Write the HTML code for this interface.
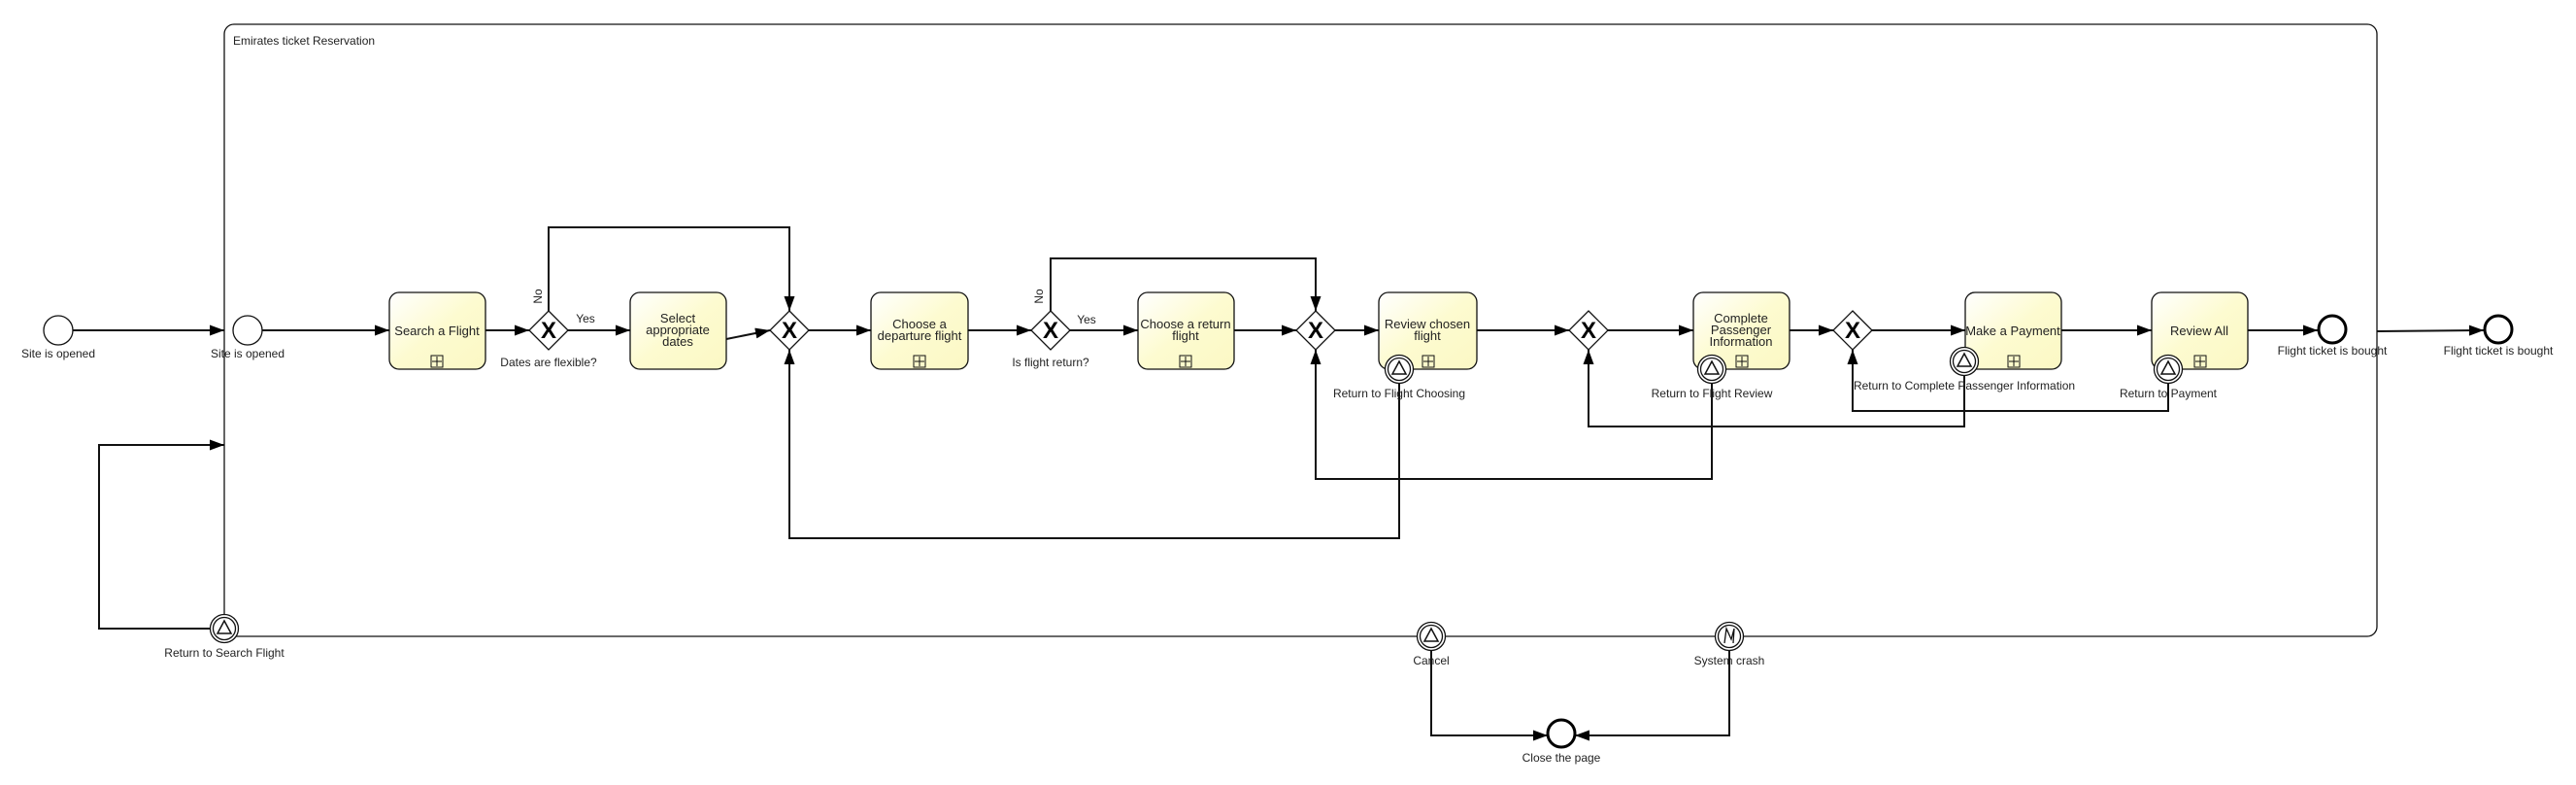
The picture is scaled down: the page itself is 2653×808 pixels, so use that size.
<!DOCTYPE html>
<html><head><meta charset="utf-8"><style>
html,body{margin:0;padding:0;background:#fff}
svg{display:block}
text{font-family:"Liberation Sans",sans-serif;fill:#222}
.t{font-size:13px;text-anchor:middle}
.l{font-size:12px;text-anchor:middle}
.f{fill:none;stroke:#111;stroke-width:2}
.task{fill:url(#g);stroke:#111;stroke-width:1.3}
</style></head><body>
<svg width="2653" height="808" viewBox="0 0 2653 808" xmlns="http://www.w3.org/2000/svg">
<defs>
<linearGradient id="g" x1="0" y1="0" x2="1" y2="1"><stop offset="0" stop-color="#ffffff"/><stop offset="0.5" stop-color="#fdfbd0"/><stop offset="1" stop-color="#fbf8c4"/></linearGradient>
<marker id="a" viewBox="0 0 15 11" refX="15" refY="5.5" markerWidth="15" markerHeight="11" markerUnits="userSpaceOnUse" orient="auto"><path d="M0,0 L15,5.5 L0,11 z" fill="#000"/></marker>
<g id="gw"><path d="M0,-20 L20,0 L0,20 L-20,0 z" fill="#fff" stroke="#111" stroke-width="1.3"/><text x="0" y="8" style="font-size:24px;font-weight:bold;text-anchor:middle;fill:#000">X</text></g>
<g id="be"><circle r="14.5" fill="#fff" stroke="#111" stroke-width="1.3"/><circle r="11.5" fill="none" stroke="#111" stroke-width="1.3"/><path d="M0,-8 L7,5 L-7,5 z" fill="none" stroke="#111" stroke-width="1.5"/></g>
<g id="pl"><rect x="-6" y="-6" width="12" height="12" fill="none" stroke="#111" stroke-width="1"/><path d="M0,-5 V5 M-5,0 H5" stroke="#111" stroke-width="1"/></g>
</defs>

<rect x="231" y="25" width="2217" height="630" rx="10" fill="none" stroke="#111" stroke-width="1.3"/>
<text x="240" y="46" style="font-size:12px">Emirates ticket Reservation</text>

<path class="f" d="M75,340 H231" marker-end="url(#a)"/>
<path class="f" d="M270,340 H401" marker-end="url(#a)"/>
<path class="f" d="M500,340 H545" marker-end="url(#a)"/>
<path class="f" d="M585,340 H649" marker-end="url(#a)"/>
<path class="f" d="M565,320 V234 H813 V320" marker-end="url(#a)"/>
<path class="f" d="M748,349 L793,340" marker-end="url(#a)"/>
<path class="f" d="M833,340 H897" marker-end="url(#a)"/>
<path class="f" d="M997,340 H1062" marker-end="url(#a)"/>
<path class="f" d="M1102,340 H1172" marker-end="url(#a)"/>
<path class="f" d="M1082,320 V266 H1355 V320" marker-end="url(#a)"/>
<path class="f" d="M1271,340 H1335" marker-end="url(#a)"/>
<path class="f" d="M1375,340 H1420" marker-end="url(#a)"/>
<path class="f" d="M1521,340 H1616" marker-end="url(#a)"/>
<path class="f" d="M1656,340 H1744" marker-end="url(#a)"/>
<path class="f" d="M1843,340 H1888" marker-end="url(#a)"/>
<path class="f" d="M1928,340 H2024" marker-end="url(#a)"/>
<path class="f" d="M2123,340 H2216" marker-end="url(#a)"/>
<path class="f" d="M2315,340 H2387" marker-end="url(#a)"/>
<path class="f" d="M2448,341 L2558,340" marker-end="url(#a)"/>
<path class="f" d="M1441,394 V554 H813 V360" marker-end="url(#a)"/>
<path class="f" d="M1763,394 V493 H1355 V360" marker-end="url(#a)"/>
<path class="f" d="M2023,386 V439 H1636 V360" marker-end="url(#a)"/>
<path class="f" d="M2233,394 V423 H1908 V360" marker-end="url(#a)"/>
<path class="f" d="M216,647 H102 V458 H231" marker-end="url(#a)"/>
<path class="f" d="M1474,669 V757 H1594" marker-end="url(#a)"/>
<path class="f" d="M1781,669 V757 H1622" marker-end="url(#a)"/>

<circle cx="60" cy="340" r="15" fill="#fff" stroke="#111" stroke-width="1.3"/>
<text class="l" x="60" y="368">Site is opened</text>
<circle cx="255" cy="340" r="15" fill="#fff" stroke="#111" stroke-width="1.3"/>
<text class="l" x="255" y="368">Site is opened</text>

<rect class="task" x="401" y="301" width="99" height="79" rx="10"/>
<text class="t" x="450" y="345">Search a Flight</text><use href="#pl" x="450" y="372"/>
<rect class="task" x="649" y="301" width="99" height="79" rx="10"/>
<text class="t" x="698" y="332">Select</text><text class="t" x="698" y="344">appropriate</text><text class="t" x="698" y="356">dates</text>
<rect class="task" x="897" y="301" width="100" height="79" rx="10"/>
<text class="t" x="947" y="338">Choose a</text><text class="t" x="947" y="350">departure flight</text><use href="#pl" x="947" y="372"/>
<rect class="task" x="1172" y="301" width="99" height="79" rx="10"/>
<text class="t" x="1221" y="338">Choose a return</text><text class="t" x="1221" y="350">flight</text><use href="#pl" x="1221" y="372"/>
<rect class="task" x="1420" y="301" width="101" height="79" rx="10"/>
<text class="t" x="1470" y="338">Review chosen</text><text class="t" x="1470" y="350">flight</text><use href="#pl" x="1471" y="372"/>
<rect class="task" x="1744" y="301" width="99" height="79" rx="10"/>
<text class="t" x="1793" y="332">Complete</text><text class="t" x="1793" y="344">Passenger</text><text class="t" x="1793" y="356">Information</text><use href="#pl" x="1794" y="372"/>
<rect class="task" x="2024" y="301" width="99" height="79" rx="10"/>
<text class="t" x="2073" y="345">Make a Payment</text><use href="#pl" x="2074" y="372"/>
<rect class="task" x="2216" y="301" width="99" height="79" rx="10"/>
<text class="t" x="2265" y="345">Review All</text><use href="#pl" x="2266" y="372"/>

<use href="#gw" x="565" y="340"/><use href="#gw" x="813" y="340"/>
<use href="#gw" x="1082" y="340"/><use href="#gw" x="1355" y="340"/>
<use href="#gw" x="1636" y="340"/><use href="#gw" x="1908" y="340"/>
<text class="l" x="565" y="377">Dates are flexible?</text>
<text class="l" x="603" y="332">Yes</text>
<text class="l" transform="translate(558,305) rotate(-90)">No</text>
<text class="l" x="1082" y="377">Is flight return?</text>
<text class="l" x="1119" y="333">Yes</text>
<text class="l" transform="translate(1074,305) rotate(-90)">No</text>

<use href="#be" x="1441" y="380"/><text class="l" x="1441" y="409">Return to Flight Choosing</text>
<use href="#be" x="1763" y="380"/><text class="l" x="1763" y="409">Return to Flight Review</text>
<use href="#be" x="2023" y="372"/><text class="l" x="2023" y="401">Return to Complete Passenger Information</text>
<use href="#be" x="2233" y="380"/><text class="l" x="2233" y="409">Return to Payment</text>
<use href="#be" x="231" y="647"/><text class="l" x="231" y="676">Return to Search Flight</text>
<use href="#be" x="1474" y="655"/><text class="l" x="1474" y="684">Cancel</text>
<g transform="translate(1781,655)"><circle r="14.5" fill="#fff" stroke="#111" stroke-width="1.3"/><circle r="11.5" fill="none" stroke="#111" stroke-width="1.3"/><path d="M-5,7 L-3,-8 L2,3 L5,-8 L4,7" fill="none" stroke="#111" stroke-width="1.3"/></g>
<text class="l" x="1781" y="684">System crash</text>

<circle cx="2402" cy="339" r="14" fill="#fff" stroke="#000" stroke-width="3"/>
<text class="l" x="2402" y="365">Flight ticket is bought</text>
<circle cx="2573" cy="339" r="14" fill="#fff" stroke="#000" stroke-width="3"/>
<text class="l" x="2573" y="365">Flight ticket is bought</text>
<circle cx="1608" cy="755" r="14" fill="#fff" stroke="#000" stroke-width="3"/>
<text class="l" x="1608" y="784">Close the page</text>
</svg>
</body></html>
